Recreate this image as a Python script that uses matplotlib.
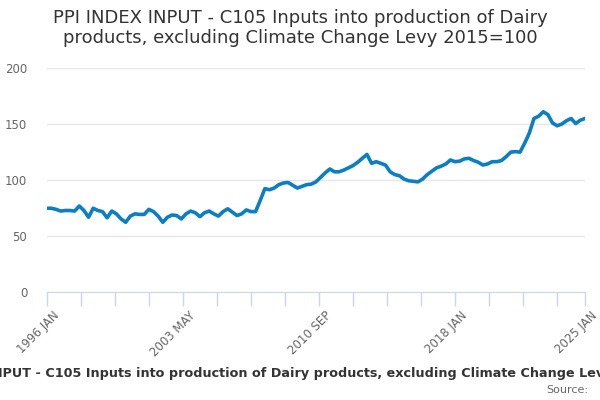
import matplotlib
matplotlib.use("Agg")
import matplotlib.pyplot as plt

# quarterly readings, month index 0 = 1996 JAN, step 3 months
months = list(range(0, 349, 3))
values = [
    75, 75, 74, 72.5, 73, 73, 72.5, 77, 73, 67,
    75, 73, 72, 66.5, 72.5, 70, 65.5, 62.5, 68, 70,
    69.5, 69.5, 74, 72, 68, 62.5, 67, 69, 68.5, 65.5,
    70, 72.5, 71, 67.5, 71, 72.5, 70, 68, 72, 74.5,
    71.5, 68.5, 70, 73.5, 72, 72, 82, 92.5, 91.5, 93,
    96, 97.5, 98, 95.5, 93, 94.5, 96, 96.5, 98.5, 102.5,
    106.5, 110, 107.5, 107.5, 109, 111, 113, 116, 119.5, 123,
    115, 116.5, 115, 113.5, 107.5, 105, 104, 101, 99.5, 99,
    98.5, 101, 105, 108, 111, 112.5, 114.5, 118, 116.5, 117,
    119, 119.5, 117.5, 116, 113.5, 114.5, 116.5, 116.5, 117.5, 121,
    125, 125.5, 125, 133, 142, 155, 157, 161, 158.5, 151,
    148.5, 150, 153, 155, 150.5, 153.5, 155,
]
assert len(months) == len(values)

tick_months = list(range(0, 331, 22)) + [348]
label_months = [0, 88, 176, 264, 348]
label_texts = ["1996 JAN", "2003 MAY", "2010 SEP", "2018 JAN", "2025 JAN"]
y_ticks = [0, 50, 100, 150, 200]

title = ("PPI INDEX INPUT - C105 Inputs into production of Dairy\n"
         "products, excluding Climate Change Levy 2015=100")
legend_text = ("PPI INDEX INPUT - C105 Inputs into production of Dairy products, "
               "excluding Climate Change Levy 2015=100")

fig = plt.figure(figsize=(6, 4), dpi=100)
ax = fig.add_axes([0.078, 0.269, 0.897, 0.561])

ax.plot(months, values, color="#0b7ec4", lw=2.6, solid_joinstyle="round",
        solid_capstyle="round", zorder=3)

ax.set_xlim(0, 348)
ax.set_ylim(0, 200)
ax.set_yticks(y_ticks)
ax.set_yticklabels([str(v) for v in y_ticks], color="#666666", fontsize=8.5)
ax.yaxis.grid(True, color="#e6e6e6", lw=1)
ax.set_axisbelow(True)
ax.tick_params(axis="y", length=0, pad=14)

ax.set_xticks(tick_months)
ax.set_xticklabels([""] * len(tick_months))
ax.tick_params(axis="x", length=10, color="#ccd6eb", width=1, direction="out")
for m, t in zip(label_months, label_texts):
    ax.annotate(t, xy=(m, 0), xycoords=("data", "axes fraction"),
                xytext=(4, -12), textcoords="offset points",
                rotation=45, ha="right", va="top", rotation_mode="anchor",
                color="#666666", fontsize=8.5)

for s in ["top", "right", "left"]:
    ax.spines[s].set_visible(False)
ax.spines["bottom"].set_color("#ccd6eb")

fig.text(0.5, 0.978, title, ha="center", va="top", fontsize=13,
         color="#333333", linespacing=1.15)
fig.text(0.5, 0.067, legend_text, ha="center", va="center", fontsize=9.2,
         fontweight="bold", color="#333333")
fig.text(0.98, 0.025, "Source:", ha="right", va="center", fontsize=8,
         color="#666666")

fig.savefig("out.png", dpi=100)
